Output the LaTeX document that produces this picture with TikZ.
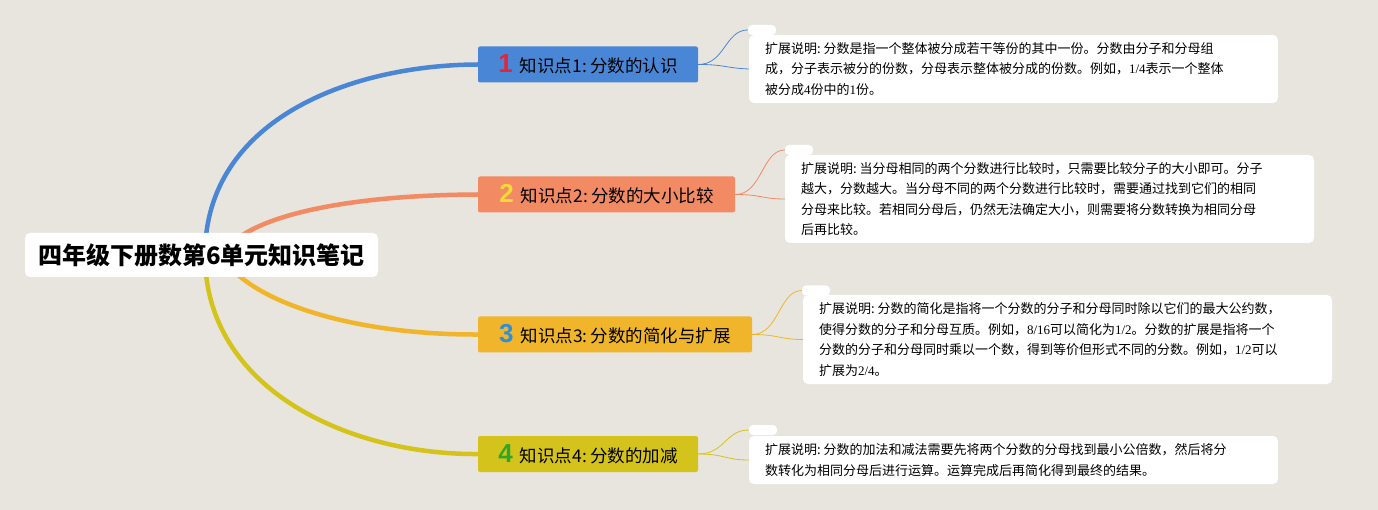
\documentclass[tikz,border=0pt]{standalone}
\usepackage{fontspec}
\setmainfont{Noto Sans CJK SC}
\newfontfamily\numf{Liberation Serif}
\newfontfamily\badgefont{Liberation Sans}
\definecolor{bg}{HTML}{E8E5DE}
\definecolor{cA}{HTML}{4A86D6}
\definecolor{cB}{HTML}{F28A63}
\definecolor{cC}{HTML}{F0B52A}
\definecolor{cD}{HTML}{D4C31B}
\definecolor{nA}{HTML}{E0263A}
\definecolor{nB}{HTML}{F6D936}
\definecolor{nC}{HTML}{2E8FD8}
\definecolor{nD}{HTML}{2FA52A}
\newcommand{\dg}[1]{{\numf #1}}
\newcommand{\cl}{:\hspace{3pt}}
\newcommand{\badge}[2]{{\badgefont\bfseries\fontsize{26}{26}\selectfont\color{#1}#2}\hspace{7pt}}
\tikzset{
  rootbox/.style={fill=white, rounded corners=5pt, minimum width=353pt, minimum height=44pt, inner sep=0pt, font=\bfseries\fontsize{24}{28}\selectfont},
  branchbox/.style={fill=#1, rounded corners=2pt, minimum height=36pt, inner sep=0pt, font=\fontsize{17.5}{19}\selectfont},
  notebox/.style={fill=white, rounded corners=5pt, minimum width=529pt, inner sep=0pt, text width=497pt, align=left, font=\fontsize{13}{20.5}\selectfont},
  tabbox/.style={fill=white, rounded corners=4pt, minimum width=28pt, minimum height=10pt, inner sep=0pt},
  mainline/.style={line width=4.5pt, line cap=round, draw=#1},
  thinline/.style={line width=0.8pt, draw=#1}
}
\begin{document}
\begin{tikzpicture}[x=1pt,y=-1pt]
\fill[bg] (0,0) rectangle (1378,510);
\useasboundingbox (0,0) rectangle (1378,510);

% branch nodes
\node[branchbox=cA, minimum width=220pt] (b1) at (588,64.5) {\badge{nA}{1}知识点1\cl 分数的认识};
\node[branchbox=cB, minimum width=257pt] (b2) at (606.5,194.5) {\badge{nB}{2}知识点2\cl 分数的大小比较};
\node[branchbox=cC, minimum width=274pt] (b3) at (615,334.5) {\badge{nC}{3}知识点3\cl 分数的简化与扩展};
\node[branchbox=cD, minimum width=220pt] (b4) at (588,454) {\badge{nD}{4}知识点4\cl 分数的加减};

\coordinate (rc) at (205,255);
\coordinate (rb) at (222,255);
% main curves
\draw[mainline=cA] (rc) .. controls (205,120) and (350,65) .. (b1.west);
\draw[mainline=cB] (rb) .. controls (245,215) and (350,195) .. (b2.west);
\draw[mainline=cC] (rb) .. controls (245,300) and (350,335) .. (b3.west);
\draw[mainline=cD] (rc) .. controls (205,390) and (350,455) .. (b4.west);

\node[rootbox] (root) at (201.5,255) {四年级下册数第6单元知识笔记};

% notes
\node[notebox, minimum height=68pt] (n1) at (1013.5,69) {扩展说明\cl 分数是指一个整体被分成若干等份的其中一份。分数由分子和分母组\\成，分子表示被分的份数，分母表示整体被分成的份数。例如，\dg{1/4}表示一个整体\\被分成\dg{4}份中的\dg{1}份。};
\node[notebox, minimum height=88pt] (n2) at (1049.5,199) {扩展说明\cl 当分母相同的两个分数进行比较时，只需要比较分子的大小即可。分子\\越大，分数越大。当分母不同的两个分数进行比较时，需要通过找到它们的相同\\分母来比较。若相同分母后，仍然无法确定大小，则需要将分数转换为相同分母\\后再比较。};
\node[notebox, minimum height=89pt] (n3) at (1067.5,339.5) {扩展说明\cl 分数的简化是指将一个分数的分子和分母同时除以它们的最大公约数，\\使得分数的分子和分母互质。例如，\dg{8/16}可以简化为\dg{1/2}。分数的扩展是指将一个\\分数的分子和分母同时乘以一个数，得到等价但形式不同的分数。例如，\dg{1/2}可以\\扩展为\dg{2/4}。};
\node[notebox, minimum height=48pt] (n4) at (1013.5,460) {扩展说明\cl 分数的加法和减法需要先将两个分数的分母找到最小公倍数，然后将分\\数转化为相同分母后进行运算。运算完成后再简化得到最终的结果。};

% tabs
\node[tabbox] (t1) at (762,30) {};
\node[tabbox] (t2) at (799,150) {};
\node[tabbox] (t3) at (816,290.5) {};
\node[tabbox] (t4) at (763,430) {};

% thin connectors
\draw[thinline=cA] (b1.east) .. controls (725,64.5) and (725,30) .. (t1.west);
\draw[thinline=cA] (b1.east) .. controls (725,64.5) and (725,68) .. (n1.west);
\draw[thinline=cB] (b2.east) .. controls (762,194.5) and (762,150) .. (t2.west);
\draw[thinline=cB] (b2.east) .. controls (762,194.5) and (762,199) .. (n2.west);
\draw[thinline=cC] (b3.east) .. controls (779,334.5) and (779,290.5) .. (t3.west);
\draw[thinline=cC] (b3.east) .. controls (779,334.5) and (779,339.5) .. (n3.west);
\draw[thinline=cD] (b4.east) .. controls (725,454) and (725,430) .. (t4.west);
\draw[thinline=cD] (b4.east) .. controls (725,454) and (725,460) .. (n4.west);
\end{tikzpicture}
\end{document}
